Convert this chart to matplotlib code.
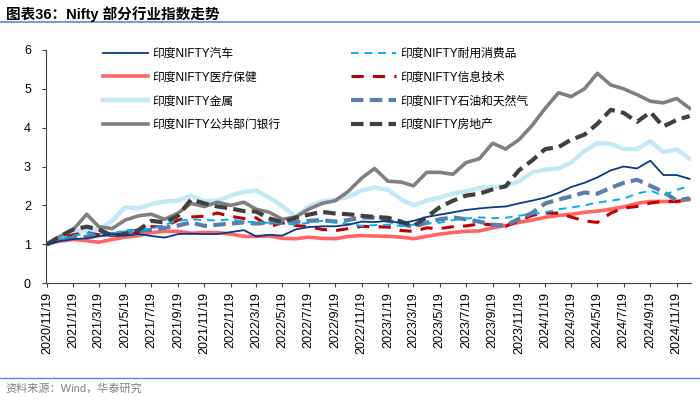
import datetime as dt
import matplotlib
matplotlib.use("Agg")
import matplotlib.pyplot as plt

plt.rcParams["font.family"] = ["Liberation Sans", "Noto Sans CJK SC", "DejaVu Sans"]

# monthly readings, 19th of each month, 2020/11 .. 2024/12
dates = [dt.date(2020 + (10 + i) // 12, (10 + i) % 12 + 1, 19) for i in range(50)]

auto = [1.0, 1.08, 1.13, 1.15, 1.2, 1.26, 1.22, 1.26, 1.21, 1.17,
        1.26, 1.27, 1.26, 1.26, 1.31, 1.36, 1.2, 1.24, 1.22, 1.38,
        1.44, 1.46, 1.46, 1.5, 1.58, 1.57, 1.6, 1.54, 1.6, 1.7,
        1.76, 1.82, 1.88, 1.92, 1.95, 1.97, 2.05, 2.12, 2.2, 2.32,
        2.47, 2.58, 2.72, 2.9, 3.0, 2.95, 3.15, 2.78, 2.78, 2.68]
durables = [1.0, 1.12, 1.22, 1.28, 1.28, 1.27, 1.36, 1.38, 1.4, 1.5,
            1.6, 1.64, 1.62, 1.61, 1.64, 1.58, 1.56, 1.55, 1.52, 1.51,
            1.55, 1.6, 1.57, 1.52, 1.47, 1.49, 1.5, 1.47, 1.5, 1.53,
            1.55, 1.62, 1.66, 1.69, 1.67, 1.68, 1.73, 1.78, 1.82, 1.9,
            1.94, 2.0, 2.07, 2.12, 2.17, 2.3, 2.38, 2.25, 2.4, 2.5]
health = [1.0, 1.08, 1.12, 1.09, 1.05, 1.12, 1.18, 1.22, 1.3, 1.33,
          1.33, 1.28, 1.3, 1.3, 1.26, 1.2, 1.2, 1.21, 1.15, 1.14,
          1.18, 1.15, 1.14, 1.2, 1.22, 1.21, 1.2, 1.18, 1.14, 1.2,
          1.26, 1.3, 1.33, 1.34, 1.42, 1.48, 1.56, 1.62, 1.69, 1.74,
          1.77, 1.82, 1.85, 1.9, 1.96, 2.05, 2.1, 2.1, 2.1, 2.15]
it = [1.0, 1.15, 1.24, 1.3, 1.24, 1.22, 1.26, 1.3, 1.45, 1.45,
      1.62, 1.7, 1.72, 1.8, 1.72, 1.66, 1.68, 1.45, 1.55, 1.48,
      1.45, 1.38, 1.35, 1.4, 1.46, 1.45, 1.44, 1.35, 1.33, 1.42,
      1.4, 1.45, 1.47, 1.52, 1.5, 1.46, 1.6, 1.74, 1.8, 1.8,
      1.7, 1.6, 1.56, 1.8, 1.93, 1.97, 2.06, 2.1, 2.1, 2.13]
metal = [1.0, 1.15, 1.33, 1.36, 1.38, 1.6, 1.95, 1.92, 2.03, 2.1,
         2.12, 2.25, 2.1, 2.12, 2.25, 2.35, 2.38, 2.2, 1.98, 1.7,
         1.97, 2.1, 2.15, 2.22, 2.38, 2.46, 2.4, 2.15, 2.0, 2.12,
         2.2, 2.3, 2.36, 2.45, 2.47, 2.49, 2.62, 2.85, 2.92, 2.95,
         3.1, 3.4, 3.6, 3.58, 3.45, 3.45, 3.65, 3.38, 3.44, 3.2]
oil_gas = [1.0, 1.12, 1.17, 1.19, 1.22, 1.26, 1.3, 1.33, 1.37, 1.42,
           1.48, 1.56, 1.47, 1.5, 1.53, 1.56, 1.53, 1.55, 1.6, 1.57,
           1.6, 1.62, 1.58, 1.62, 1.69, 1.68, 1.6, 1.52, 1.45, 1.55,
           1.64, 1.69, 1.64, 1.58, 1.5, 1.48, 1.65, 1.8, 2.05, 2.15,
           2.23, 2.33, 2.3, 2.45, 2.58, 2.66, 2.5, 2.35, 2.12, 2.18]
psu_bank = [1.0, 1.2, 1.38, 1.77, 1.45, 1.4, 1.62, 1.73, 1.77, 1.64,
            1.8, 2.05, 1.97, 2.08, 2.0, 2.08, 1.9, 1.82, 1.64, 1.7,
            1.9, 2.05, 2.12, 2.36, 2.7, 2.95, 2.62, 2.6, 2.5, 2.85,
            2.85, 2.8, 3.1, 3.2, 3.6, 3.45, 3.69, 4.05, 4.5, 4.9,
            4.8, 5.0, 5.4, 5.1, 5.0, 4.85, 4.68, 4.64, 4.75, 4.5]
realty = [1.0, 1.2, 1.38, 1.45, 1.38, 1.22, 1.26, 1.36, 1.6, 1.56,
          1.73, 2.15, 2.05, 1.97, 1.92, 1.85, 1.84, 1.66, 1.57, 1.68,
          1.76, 1.83, 1.79, 1.77, 1.73, 1.7, 1.68, 1.58, 1.46, 1.7,
          1.95, 2.12, 2.25, 2.3, 2.41, 2.49, 2.9, 3.15, 3.45, 3.5,
          3.69, 3.82, 4.1, 4.46, 4.38, 4.15, 4.4, 4.03, 4.2, 4.3]

fig = plt.figure(figsize=(7, 4), dpi=100)
ax = fig.add_axes([0.066, 0.2925, 0.921, 0.5825])

l_metal, = ax.plot(dates, metal, color="#C5E8F7", lw=3.2, label="印度NIFTY金属")
l_health, = ax.plot(dates, health, color="#FF6565", lw=2.6, label="印度NIFTY医疗保健")
l_bank, = ax.plot(dates, psu_bank, color="#808080", lw=2.6, label="印度NIFTY公共部门银行")
l_it, = ax.plot(dates, it, color="#C00000", lw=2.2, dashes=(4, 3), label="印度NIFTY信息技术")
l_oil, = ax.plot(dates, oil_gas, color="#5B7FA9", lw=3.0, dashes=(3, 1.5), label="印度NIFTY石油和天然气")
l_durable, = ax.plot(dates, durables, color="#00B0F0", lw=1.4, dashes=(4, 3), label="印度NIFTY耐用消费品")
l_realty, = ax.plot(dates, realty, color="#404040", lw=3.0, dashes=(3, 1.5), label="印度NIFTY房地产")
l_auto, = ax.plot(dates, auto, color="#0B3A84", lw=1.3, label="印度NIFTY汽车")

ax.set_ylim(0, 6)
ax.set_yticks(range(7))
ax.set_xlim(dt.date(2020, 11, 17), dt.date(2024, 12, 22))
xt = [dt.date(2020 + (10 + 2 * i) // 12, (10 + 2 * i) % 12 + 1, 19) for i in range(25)]
ax.set_xticks(xt)
ax.set_xticklabels([f"{d.year}/{d.month}/{d.day}" for d in xt], rotation=90)
ax.tick_params(axis="both", labelsize=9, length=3, color="#404040", direction="out")
ax.tick_params(axis="y", pad=8)
for s in ["top", "right"]:
    ax.spines[s].set_visible(False)
for s in ["left", "bottom"]:
    ax.spines[s].set_color("#404040")

handles = [l_auto, l_health, l_metal, l_bank, l_durable, l_it, l_oil, l_realty]
ax.legend(handles=handles, labels=[h.get_label() for h in handles], ncol=2,
          loc="upper left", bbox_to_anchor=(0.072, 1.055), frameon=False,
          handlelength=3.8, handletextpad=0.35, columnspacing=6.0, labelspacing=1.0,
          prop={"family": ["Liberation Sans", "Noto Sans CJK SC"], "size": 8.5})

fig.text(0.008, 0.965, "图表36：Nifty 部分行业指数走势", fontsize=10.5, fontweight="bold",
         va="center", ha="left")
fig.add_artist(plt.Line2D([0.0, 1.0], [0.945, 0.945], color="#5B8BC8", lw=1.2))
fig.add_artist(plt.Line2D([0.0, 1.0], [0.055, 0.055], color="#5B8BC8", lw=1.0))
fig.text(0.008, 0.03, "资料来源：Wind，华泰研究", fontsize=8, color="#808080",
         va="center", ha="left")

fig.savefig("out.png", dpi=100)
